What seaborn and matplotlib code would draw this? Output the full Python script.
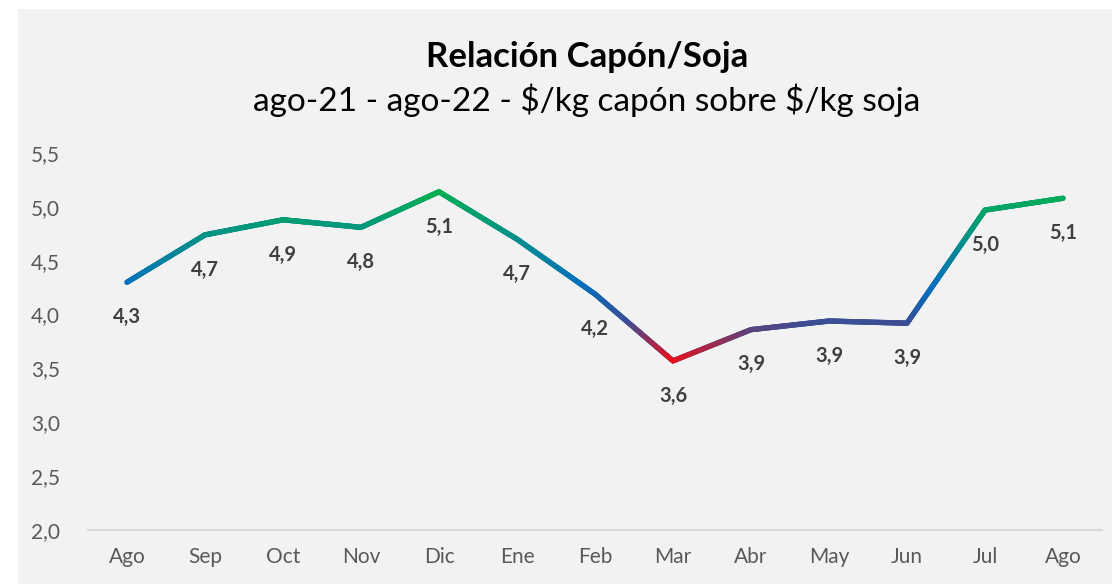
import numpy as np
import pandas as pd
import matplotlib
matplotlib.use("Agg")
import matplotlib.pyplot as plt
import seaborn as sns
from matplotlib.collections import LineCollection
from matplotlib.colors import LinearSegmentedColormap
from matplotlib.patches import Rectangle

# datos
meses = ['Ago', 'Sep', 'Oct', 'Nov', 'Dic', 'Ene', 'Feb', 'Mar', 'Abr', 'May', 'Jun', 'Jul', 'Ago']
relacion = [4.30, 4.74, 4.88, 4.81, 5.14, 4.70, 4.19, 3.57, 3.86, 3.94, 3.92, 4.97, 5.08]
yticks = [2.0, 2.5, 3.0, 3.5, 4.0, 4.5, 5.0, 5.5]

df = pd.DataFrame({'mes': meses, 'valor': relacion})
df['x'] = np.arange(len(df))

sns.set_style("white")
plt.rcParams['font.family'] = ['Lato', 'DejaVu Sans']

fig = plt.figure(figsize=(11.12, 5.84), dpi=100)
fig.patch.set_facecolor('white')
fig.patches.append(Rectangle((18 / 1112, 0), 1, 575 / 584, transform=fig.transFigure,
                             facecolor='#F2F2F2', edgecolor='none', zorder=-5))

ax = fig.add_axes([88 / 1112, 54 / 584, 1014 / 1112, 377 / 584])
ax.set_facecolor('none')

# linea base con seaborn
sns.lineplot(data=df, x='x', y='valor', ax=ax, color='#0070C0', lw=3.8, zorder=2)

# degradado vertical rojo -> azul -> verde (como el relleno de Excel)
ymin, ymax = min(relacion), max(relacion)
def pos(v):
    return (v - ymin) / (ymax - ymin)
cmap = LinearSegmentedColormap.from_list('grad', [
    (0.0, '#E8101A'),
    (pos(3.92), '#3D4D94'),
    (pos(4.28), '#0070C0'),
    (1.0, '#00B050'),
])
segs, cols = [], []
for i in range(len(df) - 1):
    xs = np.linspace(df['x'][i], df['x'][i + 1], 40)
    ys = np.linspace(relacion[i], relacion[i + 1], 40)
    for j in range(len(xs) - 1):
        segs.append([(xs[j], ys[j]), (xs[j + 1], ys[j + 1])])
        cols.append(cmap(pos((ys[j] + ys[j + 1]) / 2)))
lc = LineCollection(segs, colors=cols, linewidths=3.8, capstyle='round', joinstyle='round', zorder=3)
ax.add_collection(lc)

# etiquetas de datos
for xi, v in zip(df['x'], relacion):
    ax.annotate(f"{v:.1f}".replace('.', ','), (xi, v), xytext=(0, -25), textcoords='offset points',
                ha='center', va='center', fontsize=14.5, fontweight='bold', color='#404040')

ax.set_xlim(-0.5, len(meses) - 0.5)
ax.set_ylim(2.0, 5.5)
ax.set_yticks(yticks)
ax.set_yticklabels([f"{t:.1f}".replace('.', ',') for t in yticks])
ax.set_xticks(df['x'])
ax.set_xticklabels(meses)
ax.set_xticks(np.arange(-0.5, len(meses), 1), minor=True)
ax.tick_params(axis='x', which='major', length=0, pad=12, labelsize=15, labelcolor='#595959')
ax.tick_params(axis='x', which='minor', length=6, width=1.3, color='#D9D9D9', direction='out')
ax.tick_params(axis='y', length=0, pad=20, labelsize=15, labelcolor='#595959')
ax.set_xlabel('')
ax.set_ylabel('')
for s in ['top', 'right', 'left']:
    ax.spines[s].set_visible(False)
ax.spines['bottom'].set_color('#D9D9D9')
ax.spines['bottom'].set_linewidth(1.5)

fig.text(587 / 1112, 1 - 57 / 584, 'Relación Capón/Soja', ha='center', va='center',
         fontsize=25, fontweight='bold', color='black')
fig.text(587 / 1112, 1 - 100 / 584, r'ago-21 - ago-22 - \$/kg capón sobre \$/kg soja', ha='center', va='center',
         fontsize=24, color='black')

fig.savefig('out.png', dpi=100, facecolor=fig.get_facecolor())
